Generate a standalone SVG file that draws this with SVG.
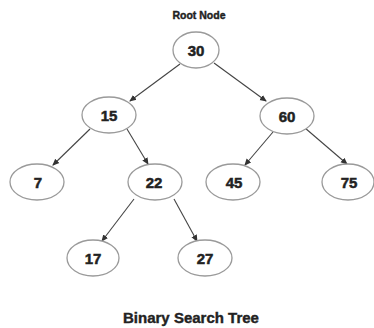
<svg xmlns="http://www.w3.org/2000/svg" width="374" height="328" viewBox="0 0 374 328">
<defs>
<marker id="ah" markerWidth="8" markerHeight="8" refX="6" refY="4" orient="auto" markerUnits="userSpaceOnUse">
<path d="M0,1 L7,4 L0,7 Z" fill="#333"/>
</marker>
</defs>
<style>
.n ellipse{fill:#fff;stroke:#9a9a9a;stroke-width:1.3}
.n text{font-family:"Liberation Sans",Arial,sans-serif;font-weight:bold;font-size:15px;fill:#222;stroke:#222;stroke-width:0.5;text-anchor:middle;dominant-baseline:central}
.e line{stroke:#444;stroke-width:1.1;marker-end:url(#ah)}
.t{font-family:"Liberation Sans",Arial,sans-serif;font-weight:bold;fill:#222;stroke:#222;stroke-width:0.4;text-anchor:middle}
</style>
<rect width="374" height="328" fill="#fff"/>
<text class="t" x="199" y="19" font-size="10.5">Root Node</text>
<g class="e">
<line x1="180" y1="64" x2="130" y2="101"/>
<line x1="214" y1="63" x2="266" y2="101"/>
<line x1="90" y1="129" x2="53" y2="165"/>
<line x1="127" y1="129" x2="148" y2="164"/>
<line x1="273" y1="132" x2="245" y2="165"/>
<line x1="305" y1="128" x2="347" y2="164"/>
<line x1="134" y1="199" x2="102" y2="241"/>
<line x1="174" y1="199" x2="197" y2="241"/>
</g>
<g id="n30" class="n"><ellipse cx="196" cy="50" rx="23" ry="18"/><text x="196" y="50">30</text></g>
<g id="n15" class="n"><ellipse cx="109" cy="115" rx="27" ry="18"/><text x="109" y="115">15</text></g>
<g id="n60" class="n"><ellipse cx="287" cy="116" rx="27" ry="18"/><text x="287" y="116">60</text></g>
<g id="n7" class="n"><ellipse cx="37" cy="182" rx="27" ry="18"/><text x="38" y="182">7</text></g>
<g id="n22" class="n"><ellipse cx="155" cy="182" rx="27" ry="18"/><text x="154" y="182">22</text></g>
<g id="n45" class="n"><ellipse cx="233" cy="182" rx="27" ry="18"/><text x="234" y="182">45</text></g>
<g id="n75" class="n"><ellipse cx="348" cy="182" rx="26" ry="18"/><text x="349" y="182">75</text></g>
<g id="n17" class="n"><ellipse cx="93" cy="258" rx="26" ry="18"/><text x="93" y="258">17</text></g>
<g id="n27" class="n"><ellipse cx="205" cy="258" rx="27" ry="18"/><text x="205" y="258">27</text></g>
<text class="t" x="191" y="323" font-size="15">Binary Search Tree</text>
</svg>
